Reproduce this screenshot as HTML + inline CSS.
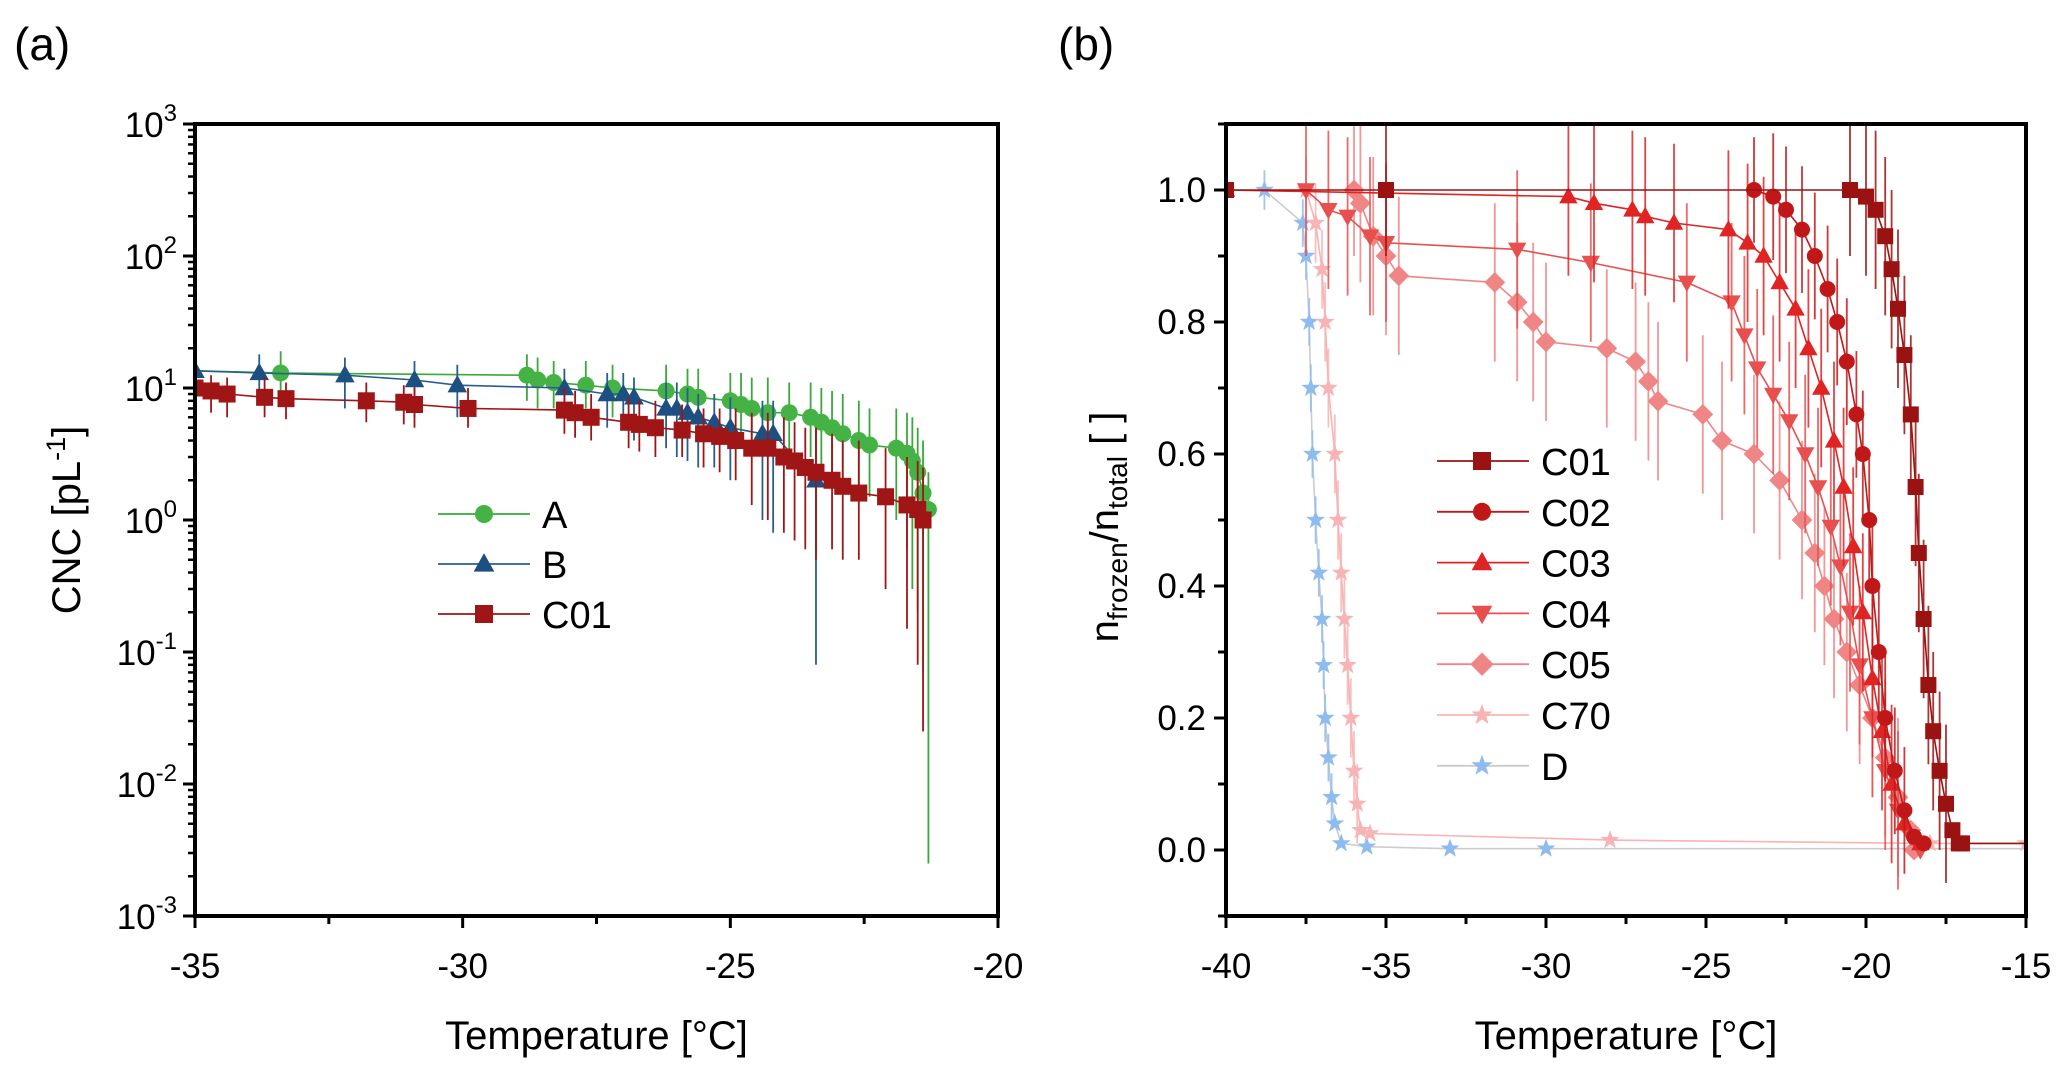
<!DOCTYPE html>
<html><head><meta charset="utf-8">
<style>
html,body{margin:0;padding:0;background:#fff;}
svg{display:block;font-family:"Liberation Sans",Arial,sans-serif;}
</style></head>
<body>
<svg id="fig" width="2067" height="1074" viewBox="0 0 2067 1074">
<text x="14" y="60" font-size="46">(a)</text>
<text x="1058" y="60" font-size="46">(b)</text>
<g id="ga"></g>
<g id="gb"></g>
</svg>
<script>
// ---------- Panel A data ----------
const aTempA=[-33.4,-28.8,-28.6,-28.3,-27.7,-27.2,-26.2,-25.8,-25.6,-25.0,-24.8,-24.6,-24.3,-23.9,-23.5,-23.3,-23.1,-22.9,-22.6,-22.4,-21.9,-21.7,-21.6,-21.5,-21.4,-21.3];
const aValA=[13,12.5,11.5,11,10.5,10,9.5,9,8.5,8,7.5,7,6.5,6.5,6,5.5,5,4.5,4,3.7,3.5,3.2,2.8,2.3,1.6,1.2];
const aLoA=[9,8,7,7,7,6,6,5,5,4.5,4,4,3,3,3,2.5,2,2,1.5,1.5,1,0.6,0.3,0.2,0.07,0.0025];
const aHiA=[19,18,17,16,16,15,15,14,14,13,13,12,12,11,11,10,9.5,9,8,7,7,6.5,6,5,4,2.3];
const aTempB=[-35,-33.8,-32.2,-30.9,-30.1,-28.1,-27.3,-27.0,-26.8,-26.2,-26.0,-25.8,-25.6,-25.3,-25.0,-24.4,-24.2,-23.4];
const aValB=[13.5,13,12.5,11.5,10.5,10,9,9,8.5,7,7,6.5,6,5.5,5,4.5,4.5,2];
const aLoB=[10,8,7,6,6,6,5,5,4,3.5,3,2.8,2.5,2.5,2,1,0.8,0.08];
const aHiB=[16,18,17,16,15,14,13,13,12,11,11,10,9,9,8.5,8,8,5];
const aTempC=[-35,-34.7,-34.4,-33.7,-33.3,-31.8,-31.1,-30.9,-29.9,-28.1,-27.9,-27.6,-26.9,-26.7,-26.4,-25.9,-25.5,-25.2,-24.9,-24.6,-24.3,-24.0,-23.8,-23.6,-23.4,-23.1,-22.9,-22.6,-22.1,-21.7,-21.5,-21.4];
const aValC=[10,9.5,9,8.5,8.3,8,7.8,7.5,7,6.8,6.5,6,5.5,5.3,5,4.8,4.5,4.3,4,3.5,3.5,3,2.8,2.5,2.3,2,1.8,1.6,1.5,1.3,1.2,1.0];
const aLoC=[7,6.5,6,6,5.8,5.5,5.3,5,5,4.5,4.2,4,3.5,3.3,3,3,2.5,2.3,2,1.3,1,0.8,0.7,0.6,0.5,0.6,0.5,0.5,0.3,0.15,0.08,0.025];
const aHiC=[13,12.5,12,12,11,11,10.5,10,10,10,9.5,9,8.5,8,8,7.5,7,7,7,6.5,6.5,6,5.5,5,5,4.5,4,4,3.5,3,2.8,2.5];
const aXTicks=[-35,-30,-25,-20];
const aYExps=[-3,-2,-1,0,1,2,3];

// ---------- Panel B data ----------
const bT_C01=[-40,-35,-20.5,-20.0,-19.7,-19.4,-19.2,-19.0,-18.8,-18.6,-18.45,-18.35,-18.2,-18.05,-17.9,-17.7,-17.5,-17.3,-17.1,-17.0];
const bV_C01=[1.0,1.0,1.0,0.99,0.97,0.93,0.88,0.82,0.75,0.66,0.55,0.45,0.35,0.25,0.18,0.12,0.07,0.03,0.01,0.01];
const bT_C02=[-23.5,-22.9,-22.5,-22.0,-21.6,-21.2,-20.9,-20.6,-20.3,-20.1,-19.9,-19.8,-19.6,-19.4,-19.1,-18.8,-18.5,-18.2];
const bV_C02=[1.0,0.99,0.97,0.94,0.9,0.85,0.8,0.74,0.66,0.6,0.5,0.4,0.3,0.2,0.12,0.06,0.02,0.01];
const bT_C03=[-40,-29.3,-28.5,-27.3,-26.9,-26.0,-24.3,-23.7,-23.2,-22.7,-22.2,-21.8,-21.4,-21.0,-20.7,-20.4,-20.1,-19.8,-19.5,-19.2,-18.8,-18.3];
const bV_C03=[1.0,0.99,0.98,0.97,0.96,0.95,0.94,0.92,0.9,0.86,0.82,0.76,0.7,0.62,0.55,0.46,0.36,0.26,0.18,0.1,0.04,0.01];
const bT_C04=[-37.5,-36.8,-36.2,-35.5,-35,-30.9,-28.6,-25.6,-24.2,-23.8,-23.4,-22.9,-22.4,-21.9,-21.5,-21.1,-20.8,-20.5,-20.2,-19.8,-19.4,-19.0,-18.6,-18.3];
const bV_C04=[1.0,0.97,0.96,0.93,0.92,0.91,0.89,0.86,0.83,0.78,0.73,0.69,0.65,0.6,0.55,0.49,0.43,0.36,0.28,0.2,0.12,0.06,0.02,0.0];
const bT_C05=[-36,-35.8,-35.4,-35,-34.6,-31.6,-30.9,-30.4,-30,-28.1,-27.2,-26.8,-26.5,-25.1,-24.5,-23.5,-22.7,-22.0,-21.6,-21.3,-21.0,-20.6,-20.2,-19.8,-19.4,-19.0,-18.6,-18.5];
const bV_C05=[1.0,0.98,0.93,0.9,0.87,0.86,0.83,0.8,0.77,0.76,0.74,0.71,0.68,0.66,0.62,0.6,0.56,0.5,0.45,0.4,0.35,0.3,0.25,0.2,0.14,0.08,0.03,0.0];
const bT_C70=[-37.5,-37.2,-37.0,-36.9,-36.8,-36.6,-36.5,-36.4,-36.3,-36.2,-36.1,-36.0,-35.9,-35.8,-35.5,-28,-18,-15];
const bV_C70=[1.0,0.95,0.88,0.8,0.7,0.6,0.5,0.42,0.35,0.28,0.2,0.12,0.07,0.03,0.025,0.015,0.01,0.01];
const bT_D=[-38.8,-37.6,-37.5,-37.4,-37.35,-37.3,-37.2,-37.1,-37.0,-36.95,-36.9,-36.8,-36.7,-36.6,-36.4,-35.6,-33,-30];
const bV_D=[1.0,0.95,0.9,0.8,0.7,0.6,0.5,0.42,0.35,0.28,0.2,0.14,0.08,0.04,0.01,0.005,0.002,0.002];
const bErr=[0.1,0.08,0.1,0.1,0.1,0.05,0.03];
const bNames=["C01","C02","C03","C04","C05","C70","D"];
const bXTicks=[-40,-35,-30,-25,-20,-15];
const bYTicks=[0.0,0.2,0.4,0.6,0.8,1.0];

const NS="http://www.w3.org/2000/svg";
function mk(parent,tag,attrs){const e=document.createElementNS(NS,tag);for(const k in attrs)e.setAttribute(k,attrs[k]);parent.appendChild(e);return e;}

function marker(g,shape,x,y,s,color){
  let e;
  if(shape==="circle"){e=mk(g,"circle",{cx:x,cy:y,r:s,fill:color});}
  else if(shape==="square"){e=mk(g,"rect",{x:x-s,y:y-s,width:2*s,height:2*s,fill:color});}
  else if(shape==="tri"){e=mk(g,"polygon",{points:`${x},${y-s*1.2} ${x-s*1.15},${y+s*0.85} ${x+s*1.15},${y+s*0.85}`,fill:color});}
  else if(shape==="trid"){e=mk(g,"polygon",{points:`${x},${y+s*1.2} ${x-s*1.15},${y-s*0.85} ${x+s*1.15},${y-s*0.85}`,fill:color});}
  else if(shape==="diamond"){e=mk(g,"polygon",{points:`${x},${y-s*1.3} ${x+s*1.3},${y} ${x},${y+s*1.3} ${x-s*1.3},${y}`,fill:color});}
  else {let p=[];for(let i=0;i<10;i++){const r=i%2?s*0.5:s*1.25;const a=-Math.PI/2+i*Math.PI/5;p.push((x+r*Math.cos(a)).toFixed(1)+","+(y+r*Math.sin(a)).toFixed(1));}
    e=mk(g,"polygon",{points:p.join(" "),fill:color});}
  
  
  return e;
}

// ---------- Panel A ----------
(function(){
  const g=document.getElementById("ga");
  const L=195,R=998,T=124,B=916;
  const xs=t=>L+(t+35)/15*(R-L);
  const ys=v=>B-(Math.log10(v)+3)/6*(B-T);
  const series=[
    {name:"A",t:aTempA,v:aValA,lo:aLoA,hi:aHiA,c:"#44b244",lc:"#3aa83a",shape:"circle"},
    {name:"B",t:aTempB,v:aValB,lo:aLoB,hi:aHiB,c:"#1d4f80",lc:"#2a5d8f",shape:"tri"},
    {name:"C01",t:aTempC,v:aValC,lo:aLoC,hi:aHiC,c:"#a01515",lc:"#a01515",shape:"square"}
  ];
  const cp=mk(g,"clipPath",{id:"clipA"});mk(cp,"rect",{x:L,y:T,width:R-L,height:B-T});
  const plot=mk(g,"g",{"clip-path":"url(#clipA)"});
  series.forEach(s=>{
    const sg=mk(plot,"g",{});
    
    
    let pts=s.t.map((t,i)=>xs(t).toFixed(1)+","+ys(s.v[i]).toFixed(1));
    if(s.name==="A") pts.unshift(xs(-35)+","+ys(13.5).toFixed(1));
    const ln=mk(sg,"polyline",{points:pts.join(" "),fill:"none",stroke:s.lc,"stroke-width":1.6});
    
    
    s.t.forEach((t,i)=>{
      const eb=mk(sg,"line",{x1:xs(t),x2:xs(t),y1:ys(s.lo[i]),y2:ys(s.hi[i]),stroke:s.lc,"stroke-width":1.8});
      
      
    });
    s.t.forEach((t,i)=>marker(sg,s.shape,xs(t),ys(s.v[i]),8.5,s.c));
  });
  const fr=mk(g,"rect",{x:L,y:T,width:R-L,height:B-T,fill:"none",stroke:"#000","stroke-width":4});
  
  
  aXTicks.forEach(t=>{
    mk(g,"line",{x1:xs(t),x2:xs(t),y1:B,y2:B+12,stroke:"#000","stroke-width":3});
    const tx=mk(g,"text",{x:xs(t),y:B+62,"font-size":35,"text-anchor":"middle"});tx.textContent=String(t);
    
    
  });
  for(let t=-32.5;t<-20;t+=5){mk(g,"line",{x1:xs(t),x2:xs(t),y1:B,y2:B+8,stroke:"#000","stroke-width":3});}
  aYExps.forEach(e=>{
    const y=ys(Math.pow(10,e));
    mk(g,"line",{x1:L-12,x2:L,y1:y,y2:y,stroke:"#000","stroke-width":3});
    const tx=mk(g,"text",{x:L-18,y:y+13,"font-size":35,"text-anchor":"end"});
    tx.innerHTML='10<tspan dy="-16" font-size="24">'+e+'</tspan>';
    
    
    if(e<3){for(let k=2;k<10;k++){const yy=ys(k*Math.pow(10,e));mk(g,"line",{x1:L-7,x2:L,y1:yy,y2:yy,stroke:"#000","stroke-width":2.5});}}
  });
  const xt=mk(g,"text",{x:(L+R)/2,y:1049,"font-size":40,"text-anchor":"middle"});xt.textContent="Temperature [°C]";
  
  
  const yt=mk(g,"text",{x:0,y:0,"font-size":40,"text-anchor":"middle",transform:"translate(80,520) rotate(-90)"});
  yt.innerHTML='CNC [pL<tspan dy="-15" font-size="27">-1</tspan><tspan dy="15">]</tspan>';
  
  
  const lg=mk(g,"g",{});
  
  
  series.forEach((s,i)=>{
    const y=514+i*50;
    const le=mk(lg,"g",{});
    
    
    mk(le,"line",{x1:438,x2:530,y1:y,y2:y,stroke:s.lc,"stroke-width":1.8});
    marker(le,s.shape,484,y,9,s.c);
    const t=mk(le,"text",{x:542,y:y+14,"font-size":38});t.textContent=s.name;
  });
})();

// ---------- Panel B ----------
(function(){
  const g=document.getElementById("gb");
  const L=1226,R=2026,T=124,B=916;
  const xs=t=>L+(t+40)/25*(R-L);
  const ys=v=>B-(v+0.1)/1.2*(B-T);
  const Ts=[bT_C01,bT_C02,bT_C03,bT_C04,bT_C05,bT_C70,bT_D];
  const Vs=[bV_C01,bV_C02,bV_C03,bV_C04,bV_C05,bV_C70,bV_D];
  const cols=["#9b1212","#c01818","#e02424","#e85050","#f08585","#f8b4b4","#8fbcf0"];
  const lcols=["#9b1212","#c01818","#e02424","#e85050","#f08585","#f8b4b4","#cccccc"];
  const shapes=["square","circle","tri","trid","diamond","star","star"];
  const cp=mk(g,"clipPath",{id:"clipB"});mk(cp,"rect",{x:L,y:T,width:R-L,height:B-T});
  const plot=mk(g,"g",{"clip-path":"url(#clipB)"});
  for(let si=6;si>=0;si--){
    const sg=mk(plot,"g",{});
    
    
    let pts=Ts[si].map((t,i)=>xs(t).toFixed(1)+","+ys(Vs[si][i]).toFixed(1));
    if(si===0) pts.push(xs(-15)+","+ys(0.01));
    if(si===6) pts.push(xs(-15)+","+ys(0.002));
    const ln=mk(sg,"polyline",{points:pts.join(" "),fill:"none",stroke:lcols[si],"stroke-width":1.6});
    
    
    Ts[si].forEach((t,i)=>{
      const v=Vs[si][i];const e=bErr[si]*(v>0.05&&v<0.999?1.2:1);
      if(v<0.05) return;
      const eb=mk(sg,"line",{x1:xs(t),x2:xs(t),y1:ys(v-e),y2:ys(v+e),stroke:cols[si],"stroke-width":1.8,opacity:0.85});
      
      
    });
    Ts[si].forEach((t,i)=>marker(sg,shapes[si],xs(t),ys(Vs[si][i]),8,cols[si]));
  }
  const fr=mk(g,"rect",{x:L,y:T,width:R-L,height:B-T,fill:"none",stroke:"#000","stroke-width":4});
  
  
  bXTicks.forEach(t=>{
    mk(g,"line",{x1:xs(t),x2:xs(t),y1:B,y2:B+12,stroke:"#000","stroke-width":3});
    const tx=mk(g,"text",{x:xs(t),y:B+62,"font-size":35,"text-anchor":"middle"});tx.textContent=String(t);
    
    
  });
  for(let t=-37.5;t<-15;t+=5){mk(g,"line",{x1:xs(t),x2:xs(t),y1:B,y2:B+8,stroke:"#000","stroke-width":3});}
  bYTicks.forEach(v=>{
    const y=ys(v);
    mk(g,"line",{x1:L-12,x2:L,y1:y,y2:y,stroke:"#000","stroke-width":3});
    const tx=mk(g,"text",{x:L-20,y:y+12,"font-size":35,"text-anchor":"end"});tx.textContent=v.toFixed(1);
    
    
  });
  for(let v=-0.1;v<1.1;v+=0.2){const y=ys(v);mk(g,"line",{x1:L-8,x2:L,y1:y,y2:y,stroke:"#000","stroke-width":3});}
  const xt=mk(g,"text",{x:(L+R)/2,y:1049,"font-size":40,"text-anchor":"middle"});xt.textContent="Temperature [°C]";
  
  
  const yt=mk(g,"text",{x:0,y:0,"font-size":40,"text-anchor":"middle",transform:"translate(1118,527) rotate(-90)"});
  yt.innerHTML='n<tspan dy="9" font-size="28">frozen</tspan><tspan dy="-9">/n</tspan><tspan dy="9" font-size="28">total</tspan><tspan dy="-9"> [ ]</tspan>';
  
  
  const lg=mk(g,"g",{});
  
  
  bNames.forEach((n,i)=>{
    const y=461+i*50.8;
    const le=mk(lg,"g",{});
    
    
    mk(le,"line",{x1:1437,x2:1529,y1:y,y2:y,stroke:lcols[i],"stroke-width":1.8});
    marker(le,shapes[i],1482,y,9,cols[i]);
    const t=mk(le,"text",{x:1541,y:y+14,"font-size":38});t.textContent=n;
  });
})();
</script>
</body></html>
